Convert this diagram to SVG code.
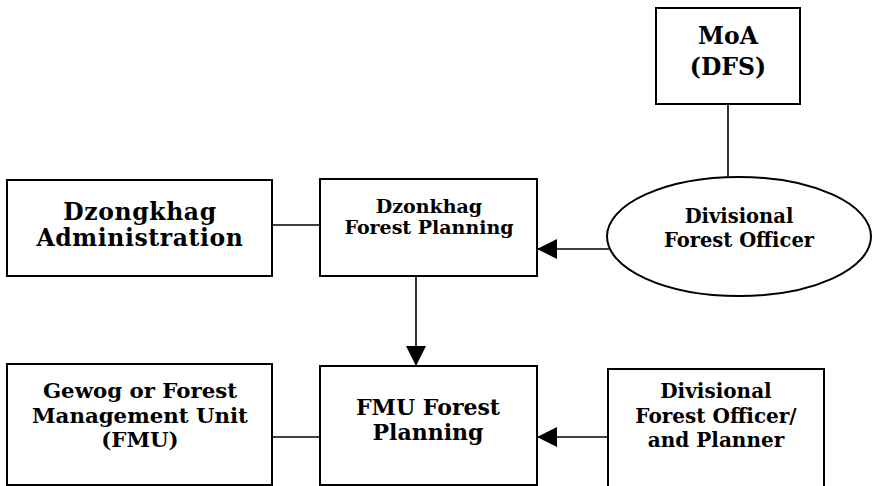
<svg xmlns="http://www.w3.org/2000/svg" width="873" height="486" viewBox="0 0 873 486">
<style>
.box{fill:#fff;stroke:#000;stroke-width:2}
.t{font-family:"DejaVu Serif","Liberation Serif",serif;font-weight:bold;fill:#000;text-anchor:middle}
.ln{stroke:#000;stroke-width:1.6;fill:none}
</style>
<defs>
<marker id="ah" markerUnits="userSpaceOnUse" markerWidth="20" markerHeight="20" refX="20" refY="10" orient="auto">
<path d="M0,0 L20,10 L0,20 z" fill="#000"/>
</marker>
</defs>
<rect width="873" height="486" fill="#fff"/>
<g id="connectors">
<line class="ln" x1="728" y1="104" x2="728" y2="177"/>
<line class="ln" x1="272" y1="225" x2="320" y2="225"/>
<line class="ln" x1="609" y1="249" x2="537" y2="249" marker-end="url(#ah)"/>
<line class="ln" x1="416" y1="276" x2="416" y2="366" marker-end="url(#ah)"/>
<line class="ln" x1="272" y1="437" x2="320" y2="437"/>
<line class="ln" x1="608" y1="437" x2="537" y2="437" marker-end="url(#ah)"/>
</g>
<g id="moa">
<rect class="box" x="656" y="8" width="144" height="96"/>
<text class="t" x="728" y="44" font-size="23.5">MoA</text>
<text class="t" x="728" y="75" font-size="23.5">(DFS)</text>
</g>
<g id="dzongkhag-admin">
<rect class="box" x="7" y="180" width="265" height="96"/>
<text class="t" x="140" y="220" font-size="23.5" letter-spacing="0.6">Dzongkhag</text>
<text class="t" x="140" y="246" font-size="23.5" letter-spacing="0.6">Administration</text>
</g>
<g id="dzonkhag-forest-planning">
<rect class="box" x="320" y="179" width="217" height="97"/>
<text class="t" x="429" y="213" font-size="19">Dzonkhag</text>
<text class="t" x="429" y="234" font-size="19">Forest Planning</text>
</g>
<g id="dfo">
<ellipse class="box" cx="739" cy="236.5" rx="132" ry="59.5"/>
<text class="t" x="739" y="223" font-size="19.5">Divisional</text>
<text class="t" x="739" y="247" font-size="19.5">Forest Officer</text>
</g>
<g id="gewog-fmu">
<rect class="box" x="7" y="364" width="265" height="121"/>
<text class="t" x="140" y="398" font-size="21.3">Gewog or Forest</text>
<text class="t" x="140" y="422.5" font-size="21.3">Management Unit</text>
<text class="t" x="140" y="447" font-size="21.3">(FMU)</text>
</g>
<g id="fmu-forest-planning">
<rect class="box" x="320" y="366" width="217" height="119"/>
<text class="t" x="428" y="415" font-size="22">FMU Forest</text>
<text class="t" x="428" y="440" font-size="22">Planning</text>
</g>
<g id="dfo-planner">
<rect class="box" x="608" y="369" width="216" height="130"/>
<text class="t" x="716" y="398" font-size="20">Divisional</text>
<text class="t" x="716" y="423" font-size="20">Forest Officer/</text>
<text class="t" x="716" y="447" font-size="20">and Planner</text>
</g>
</svg>
